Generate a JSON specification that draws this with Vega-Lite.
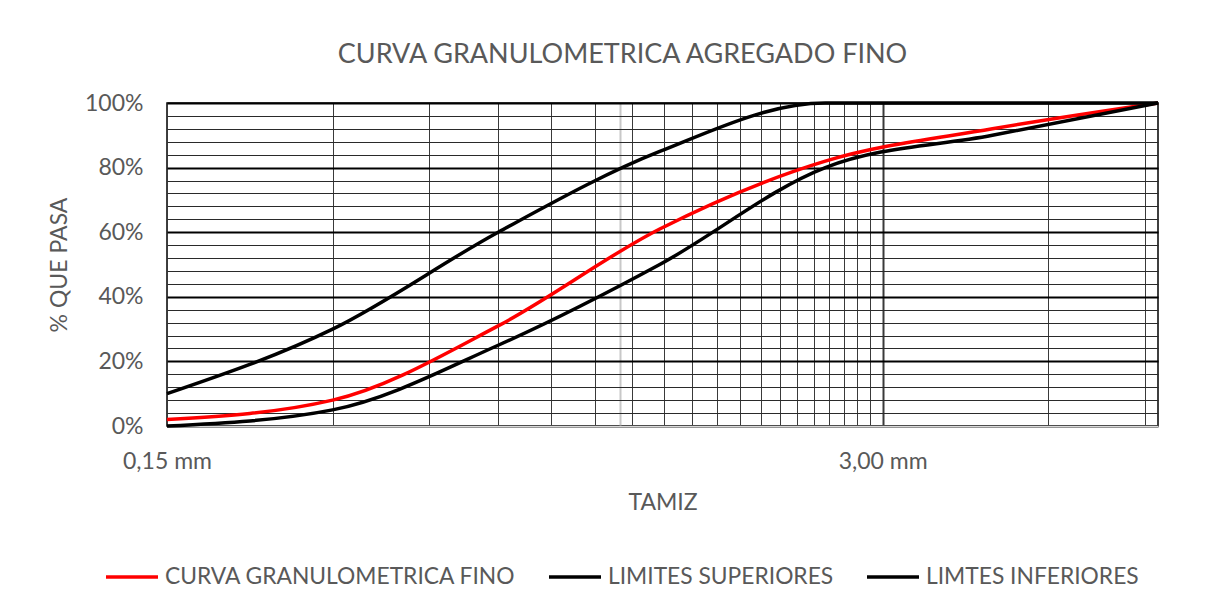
{
  "$schema": "https://vega.github.io/schema/vega-lite/v6.json",
  "autosize": {"type": "none"},
  "width": 991,
  "height": 323,
  "padding": {"left": 167, "top": 103, "right": 65, "bottom": 185},
  "background": "white",
  "config": {
    "font": "Lato",
    "view": {"stroke": "black", "strokeWidth": 1.5},
    "axis": {"labelColor": "#595959", "titleColor": "#595959", "labelFont": "Lato", "titleFont": "Lato", "ticks": false, "titleFontWeight": "normal", "labelFontSize": 23, "titleFontSize": 23}
  },
  "title": {
    "text": "CURVA GRANULOMETRICA AGREGADO FINO",
    "fontSize": 27,
    "fontWeight": "normal",
    "color": "#595959",
    "font": "Lato",
    "anchor": "middle",
    "dx": -40,
    "offset": 23
  },
  "data": {
    "values": [
      {"tamiz": 0.15, "pasa": 2, "serie": "CURVA GRANULOMETRICA FINO"},
      {"tamiz": 0.3, "pasa": 8, "serie": "CURVA GRANULOMETRICA FINO"},
      {"tamiz": 0.6, "pasa": 31, "serie": "CURVA GRANULOMETRICA FINO"},
      {"tamiz": 1.18, "pasa": 61, "serie": "CURVA GRANULOMETRICA FINO"},
      {"tamiz": 2.36, "pasa": 82, "serie": "CURVA GRANULOMETRICA FINO"},
      {"tamiz": 4.75, "pasa": 92, "serie": "CURVA GRANULOMETRICA FINO"},
      {"tamiz": 9.5, "pasa": 100, "serie": "CURVA GRANULOMETRICA FINO"},
      {"tamiz": 0.15, "pasa": 10, "serie": "LIMITES SUPERIORES"},
      {"tamiz": 0.3, "pasa": 30, "serie": "LIMITES SUPERIORES"},
      {"tamiz": 0.6, "pasa": 60, "serie": "LIMITES SUPERIORES"},
      {"tamiz": 1.18, "pasa": 85, "serie": "LIMITES SUPERIORES"},
      {"tamiz": 2.36, "pasa": 100, "serie": "LIMITES SUPERIORES"},
      {"tamiz": 4.75, "pasa": 100, "serie": "LIMITES SUPERIORES"},
      {"tamiz": 9.5, "pasa": 100, "serie": "LIMITES SUPERIORES"},
      {"tamiz": 0.15, "pasa": 0, "serie": "LIMTES INFERIORES"},
      {"tamiz": 0.3, "pasa": 5, "serie": "LIMTES INFERIORES"},
      {"tamiz": 0.6, "pasa": 25, "serie": "LIMTES INFERIORES"},
      {"tamiz": 1.18, "pasa": 50, "serie": "LIMTES INFERIORES"},
      {"tamiz": 2.36, "pasa": 80, "serie": "LIMTES INFERIORES"},
      {"tamiz": 4.75, "pasa": 90, "serie": "LIMTES INFERIORES"},
      {"tamiz": 9.5, "pasa": 100, "serie": "LIMTES INFERIORES"}
    ]
  },
  "mark": {"type": "line", "interpolate": "monotone", "strokeWidth": 3.5},
  "encoding": {
    "x": {
      "field": "tamiz",
      "type": "quantitative",
      "title": "TAMIZ",
      "scale": {"type": "log", "domain": [0.15, 9.5], "nice": false},
      "axis": {
        "values": [0.15, 0.3, 0.45, 0.6, 0.75, 0.9, 1.05, 1.2, 1.35, 1.5, 1.65, 1.8, 1.95, 2.1, 2.25, 2.4, 2.55, 2.7, 2.85, 3, 6, 9, 1],
        "labelExpr": "datum.value == 0.15 ? '0,15 mm' : (datum.value == 3 ? '3,00 mm' : '')",
        "labelOverlap": false,
        "labelBound": false,
        "labelFlush": false,
        "labelPadding": 24,
        "titlePadding": 18,
        "grid": true,
        "gridColor": {"condition": {"test": "datum.value == 1", "value": "#c8c8c8"}, "value": "#3a3a3a"},
        "gridWidth": {"condition": {"test": "datum.value == 3 || datum.value == 1", "value": 2}, "value": 1},
        "domainColor": "#d9d9d9",
        "domainWidth": 1.5
      }
    },
    "y": {
      "field": "pasa",
      "type": "quantitative",
      "title": "% QUE PASA",
      "scale": {"domain": [0, 100], "nice": false},
      "axis": {
        "values": [0, 4, 8, 12, 16, 20, 24, 28, 32, 36, 40, 44, 48, 52, 56, 60, 64, 68, 72, 76, 80, 84, 88, 92, 96, 100],
        "labelExpr": "datum.value % 20 == 0 ? datum.value + '%' : ''",
        "labelOverlap": false,
        "labelPadding": 24,
        "titlePadding": 13,
        "domain": false,
        "grid": true,
        "gridColor": {"condition": {"test": "datum.value % 20 == 0", "value": "#000000"}, "value": "#2a2a2a"},
        "gridWidth": {"condition": {"test": "datum.value % 20 == 0", "value": 2}, "value": 1}
      }
    },
    "color": {
      "field": "serie",
      "type": "nominal",
      "title": null,
      "scale": {
        "domain": ["CURVA GRANULOMETRICA FINO", "LIMITES SUPERIORES", "LIMTES INFERIORES"],
        "range": ["#ff0000", "#000000", "#000000"]
      },
      "legend": {
        "orient": "none",
        "direction": "horizontal",
        "legendX": -63,
        "legendY": 446,
        "symbolType": "stroke",
        "symbolSize": 2704,
        "symbolStrokeWidth": 3.5,
        "labelFontSize": 22.8,
        "labelColor": "#595959",
        "labelFont": "Lato",
        "labelOffset": 5,
        "columnPadding": 26,
        "labelLimit": 0
      }
    }
  }
}
